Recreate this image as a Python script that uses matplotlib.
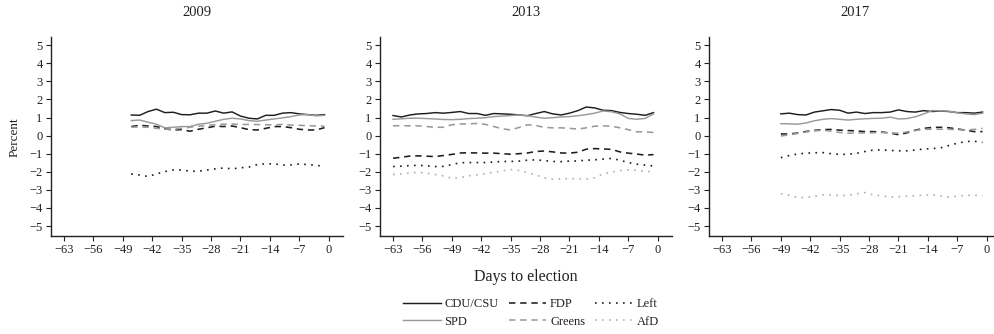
import matplotlib
matplotlib.use("Agg")
import matplotlib.pyplot as plt
from matplotlib.lines import Line2D

plt.rcParams['font.family'] = ['Liberation Serif', 'DejaVu Serif']

# ---------------- data ----------------
years = ["2009", "2013", "2017"]
parties = ["CDU/CSU", "SPD", "FDP", "Greens", "Left", "AfD"]

days_2009 = list(range(-47, 0, 2))
days_2013 = list(range(-63, 0, 2))
days_2017 = list(range(-49, 0, 2))

cdu_2009 = [1.14, 1.12, 1.33, 1.46, 1.27, 1.29, 1.16, 1.15, 1.24, 1.24, 1.36, 1.24,
            1.31, 1.08, 0.96, 0.92, 1.12, 1.12, 1.24, 1.27, 1.20, 1.16, 1.12, 1.16]
spd_2009 = [0.83, 0.86, 0.74, 0.63, 0.43, 0.46, 0.50, 0.50, 0.63, 0.68, 0.79, 0.90,
            0.96, 0.92, 0.83, 0.79, 0.86, 0.92, 0.98, 1.05, 1.14, 1.16, 1.09, 1.12]
fdp_2009 = [0.50, 0.57, 0.53, 0.50, 0.37, 0.31, 0.33, 0.24, 0.35, 0.43, 0.52, 0.50,
            0.53, 0.44, 0.33, 0.31, 0.40, 0.50, 0.50, 0.44, 0.35, 0.31, 0.31, 0.44]
greens_2009 = [0.47, 0.47, 0.46, 0.40, 0.36, 0.35, 0.40, 0.46, 0.52, 0.56, 0.60, 0.63,
               0.64, 0.61, 0.62, 0.61, 0.60, 0.59, 0.62, 0.58, 0.57, 0.55, 0.53, 0.52]
left_2009 = [-2.12, -2.18, -2.26, -2.12, -1.99, -1.90, -1.90, -1.97, -1.97, -1.90, -1.84, -1.79,
             -1.84, -1.78, -1.74, -1.60, -1.56, -1.56, -1.63, -1.62, -1.57, -1.60, -1.64, -1.71]

cdu_2013 = [1.11, 1.03, 1.14, 1.20, 1.22, 1.27, 1.24, 1.28, 1.33, 1.22, 1.22, 1.12,
            1.22, 1.20, 1.18, 1.14, 1.10, 1.22, 1.33, 1.20, 1.14, 1.24, 1.38, 1.58,
            1.53, 1.40, 1.38, 1.28, 1.22, 1.18, 1.12, 1.27]
spd_2013 = [0.90, 0.93, 0.96, 0.96, 0.94, 0.92, 0.89, 0.88, 0.90, 0.94, 0.96, 0.99,
            1.05, 1.08, 1.11, 1.14, 1.10, 1.02, 0.96, 0.99, 1.03, 1.05, 1.10, 1.16,
            1.24, 1.36, 1.32, 1.20, 0.95, 0.90, 0.95, 1.20]
fdp_2013 = [-1.25, -1.20, -1.13, -1.12, -1.14, -1.16, -1.10, -1.04, -0.96, -0.95, -0.96, -0.97,
            -0.97, -1.00, -1.03, -1.00, -0.96, -0.88, -0.85, -0.90, -0.96, -0.97, -0.92, -0.75,
            -0.72, -0.74, -0.76, -0.90, -0.97, -1.02, -1.08, -1.05]
greens_2013 = [0.54, 0.55, 0.54, 0.54, 0.50, 0.46, 0.46, 0.60, 0.64, 0.65, 0.67, 0.62,
               0.50, 0.38, 0.31, 0.45, 0.60, 0.56, 0.45, 0.43, 0.43, 0.40, 0.36, 0.43,
               0.52, 0.54, 0.52, 0.43, 0.33, 0.21, 0.21, 0.17]
left_2013 = [-1.71, -1.69, -1.66, -1.64, -1.67, -1.71, -1.70, -1.60, -1.50, -1.49, -1.49, -1.49,
             -1.46, -1.43, -1.43, -1.41, -1.36, -1.34, -1.38, -1.43, -1.44, -1.41, -1.40, -1.36,
             -1.34, -1.30, -1.26, -1.36, -1.49, -1.58, -1.63, -1.68]
afd_2013 = [-2.15, -2.12, -2.07, -2.03, -2.08, -2.15, -2.23, -2.36, -2.33, -2.22, -2.17, -2.10,
            -2.03, -1.95, -1.88, -1.93, -2.05, -2.18, -2.33, -2.41, -2.39, -2.38, -2.38, -2.41,
            -2.33, -2.12, -2.02, -1.93, -1.90, -1.92, -1.98, -2.00]

cdu_2017 = [1.20, 1.24, 1.16, 1.14, 1.30, 1.37, 1.44, 1.40, 1.24, 1.30, 1.22, 1.27,
            1.27, 1.30, 1.42, 1.33, 1.30, 1.38, 1.33, 1.36, 1.33, 1.27, 1.27, 1.24, 1.30]
spd_2017 = [0.66, 0.65, 0.63, 0.70, 0.82, 0.90, 0.94, 0.90, 0.86, 0.90, 0.93, 0.95,
            0.96, 1.02, 0.92, 0.94, 1.04, 1.20, 1.38, 1.37, 1.35, 1.26, 1.20, 1.16, 1.24]
fdp_2017 = [0.09, 0.09, 0.14, 0.23, 0.29, 0.33, 0.34, 0.30, 0.28, 0.26, 0.22, 0.22,
            0.20, 0.14, 0.05, 0.15, 0.30, 0.40, 0.45, 0.46, 0.43, 0.37, 0.30, 0.22, 0.22]
greens_2017 = [-0.02, 0.04, 0.12, 0.20, 0.26, 0.29, 0.25, 0.17, 0.13, 0.15, 0.14, 0.16,
               0.17, 0.15, 0.13, 0.20, 0.28, 0.35, 0.35, 0.35, 0.35, 0.33, 0.31, 0.34, 0.40]
left_2017 = [-1.22, -1.10, -1.02, -0.97, -0.95, -0.94, -1.00, -1.04, -1.03, -0.98, -0.88, -0.80,
             -0.79, -0.82, -0.84, -0.84, -0.80, -0.74, -0.72, -0.68, -0.55, -0.42, -0.33, -0.31, -0.38]
afd_2017 = [-3.22, -3.30, -3.42, -3.43, -3.35, -3.28, -3.28, -3.32, -3.30, -3.22, -3.15, -3.28,
            -3.33, -3.40, -3.38, -3.35, -3.33, -3.29, -3.28, -3.33, -3.40, -3.35, -3.30, -3.30, -3.33]

x_ticks = [-63, -56, -49, -42, -35, -28, -21, -14, -7, 0]
y_ticks = [-5, -4, -3, -2, -1, 0, 1, 2, 3, 4, 5]

# ---------------- styles ----------------
DARK = "#1e1e1e"
GRAY = "#9a9a9a"
LGRAY = "#b0b0b0"
styles = {
    "CDU/CSU": dict(color=DARK, linestyle="-", lw=1.05),
    "SPD": dict(color=GRAY, linestyle="-", lw=1.05),
    "FDP": dict(color=DARK, linestyle=(0, (4, 3)), lw=1.15),
    "Greens": dict(color=GRAY, linestyle=(0, (4, 3)), lw=1.15),
    "Left": dict(color=DARK, linestyle=(0, (1, 3.2)), lw=1.2),
    "AfD": dict(color=LGRAY, linestyle=(0, (1, 3.2)), lw=1.2),
}

panels = [
    (days_2009, {"CDU/CSU": cdu_2009, "SPD": spd_2009, "FDP": fdp_2009,
                 "Greens": greens_2009, "Left": left_2009}),
    (days_2013, {"CDU/CSU": cdu_2013, "SPD": spd_2013, "FDP": fdp_2013,
                 "Greens": greens_2013, "Left": left_2013, "AfD": afd_2013}),
    (days_2017, {"CDU/CSU": cdu_2017, "SPD": spd_2017, "FDP": fdp_2017,
                 "Greens": greens_2017, "Left": left_2017, "AfD": afd_2017}),
]

W, H = 994, 334
fig = plt.figure(figsize=(W / 100, H / 100), dpi=100)

lefts_px = [51, 380, 709]
ax_w_px = 292
bottom_px = 236
top_px = 37

axes = []
for i, (days, series) in enumerate(panels):
    ax = fig.add_axes([lefts_px[i] / W, (H - bottom_px) / H, ax_w_px / W, (bottom_px - top_px) / H])
    axes.append(ax)
    for name in parties:
        if name in series:
            ax.plot(days, series[name], **styles[name])
    ax.set_xlim(-66.1, 3.4)
    ax.set_ylim(-5.55, 5.45)
    ax.set_xticks(x_ticks)
    ax.set_yticks(y_ticks)
    for s in ["top", "right"]:
        ax.spines[s].set_visible(False)
    for s in ["left", "bottom"]:
        ax.spines[s].set_color("#222222")
        ax.spines[s].set_linewidth(1.0)
    ax.tick_params(direction="out", length=3.5, width=0.8, color="#222222",
                   labelsize=9, labelcolor="#222222", pad=2.5)
    cx = (lefts_px[i] + ax_w_px / 2) / W
    fig.text(cx, 1 - 13 / H, years[i], ha="center", va="center", fontsize=10.5, color="#222222")

fig.text(15 / W, 1 - 137 / H, "Percent", rotation=90, ha="center", va="center",
         fontsize=9.5, color="#222222")
fig.text((380 + ax_w_px / 2) / W, 1 - 277 / H, "Days to election", ha="center", va="center",
         fontsize=11.5, color="#222222")

handles = [Line2D([], [], **styles[p]) for p in parties]
fig.legend(handles, parties, ncol=3, loc="center", bbox_to_anchor=(531 / W, 1 - 313 / H),
           frameon=False, fontsize=9, handlelength=3.0, handletextpad=0.3,
           columnspacing=0.8, labelspacing=0.45, borderpad=0, labelcolor="#222222")

fig.savefig("out.png", dpi=100)
